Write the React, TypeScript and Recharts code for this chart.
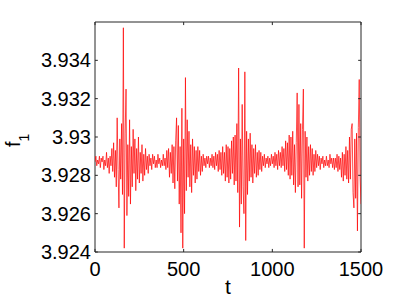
import React from 'react';
import { LineChart, Line, XAxis, YAxis, ReferenceLine, ReferenceArea } from 'recharts';

// sampling step of the signal (t units)
const TIME_STEP = 5;

// f1 values, one every 5 time units from t = 0 to 1500
const f1Values: number[] = [
  3.9287, 3.9290, 3.9285, 3.9288, 3.9286, 3.9290, 3.9284, 3.9289, 3.9287, 3.9290,
  3.9283, 3.9288, 3.9285, 3.9292, 3.9284, 3.9289, 3.9281, 3.9290, 3.9285, 3.9294,
  3.9282, 3.9297, 3.9279, 3.9293, 3.9274, 3.9310, 3.9283, 3.9263, 3.9299, 3.9278,
  3.9307, 3.9270, 3.9357, 3.9242, 3.9302, 3.9325, 3.9259, 3.9296, 3.9269, 3.9309,
  3.9265, 3.9295, 3.9274, 3.9304, 3.9281, 3.9299, 3.9272, 3.9294, 3.9278, 3.9300,
  3.9276, 3.9292, 3.9281, 3.9296, 3.9277, 3.9291, 3.9280, 3.9294, 3.9283, 3.9290,
  3.9281, 3.9291, 3.9285, 3.9289, 3.9283, 3.9291, 3.9286, 3.9290, 3.9284, 3.9288,
  3.9284, 3.9291, 3.9286, 3.9289, 3.9284, 3.9288, 3.9285, 3.9291, 3.9285, 3.9289,
  3.9283, 3.9293, 3.9284, 3.9294, 3.9279, 3.9292, 3.9281, 3.9296, 3.9276, 3.9295,
  3.9273, 3.9298, 3.9310, 3.9277, 3.9306, 3.9265, 3.9295, 3.9250, 3.9315, 3.9242,
  3.9299, 3.9260, 3.9331, 3.9272, 3.9309, 3.9279, 3.9303, 3.9274, 3.9296, 3.9271,
  3.9299, 3.9280, 3.9295, 3.9276, 3.9293, 3.9278, 3.9295, 3.9282, 3.9293, 3.9280,
  3.9290, 3.9282, 3.9291, 3.9285, 3.9289, 3.9284, 3.9290, 3.9286, 3.9290, 3.9284,
  3.9289, 3.9285, 3.9291, 3.9284, 3.9290, 3.9283, 3.9292, 3.9285, 3.9291, 3.9282,
  3.9293, 3.9283, 3.9292, 3.9280, 3.9295, 3.9281, 3.9292, 3.9277, 3.9296, 3.9279,
  3.9295, 3.9276, 3.9294, 3.9278, 3.9298, 3.9281, 3.9300, 3.9275, 3.9301, 3.9277,
  3.9307, 3.9271, 3.9336, 3.9253, 3.9299, 3.9265, 3.9317, 3.9274, 3.9260, 3.9334,
  3.9246, 3.9303, 3.9270, 3.9299, 3.9277, 3.9302, 3.9279, 3.9296, 3.9276, 3.9294,
  3.9281, 3.9296, 3.9279, 3.9292, 3.9280, 3.9293, 3.9283, 3.9292, 3.9282, 3.9290,
  3.9285, 3.9291, 3.9284, 3.9289, 3.9286, 3.9290, 3.9284, 3.9289, 3.9285, 3.9291,
  3.9286, 3.9290, 3.9284, 3.9292, 3.9285, 3.9291, 3.9283, 3.9293, 3.9285, 3.9292,
  3.9284, 3.9295, 3.9285, 3.9294, 3.9282, 3.9298, 3.9283, 3.9297, 3.9280, 3.9301,
  3.9278, 3.9300, 3.9280, 3.9303, 3.9275, 3.9296, 3.9271, 3.9297, 3.9323, 3.9274,
  3.9317, 3.9275, 3.9307, 3.9268, 3.9304, 3.9325, 3.9242, 3.9303, 3.9279, 3.9300,
  3.9277, 3.9295, 3.9280, 3.9296, 3.9282, 3.9294, 3.9280, 3.9291, 3.9282, 3.9293,
  3.9284, 3.9291, 3.9285, 3.9290, 3.9283, 3.9289, 3.9286, 3.9290, 3.9284, 3.9288,
  3.9285, 3.9290, 3.9285, 3.9288, 3.9284, 3.9291, 3.9286, 3.9289, 3.9284, 3.9289,
  3.9283, 3.9289, 3.9284, 3.9291, 3.9282, 3.9290, 3.9283, 3.9289, 3.9279, 3.9292,
  3.9277, 3.9291, 3.9280, 3.9295, 3.9278, 3.9293, 3.9276, 3.9300, 3.9278, 3.9304,
  3.9307, 3.9271, 3.9263, 3.9299, 3.9268, 3.9302, 3.9251, 3.9305, 3.9330, 3.9279,
  3.9265,
];

const xTicks = [0, 500, 1000, 1500];
const yTicks = [3.924, 3.926, 3.928, 3.93, 3.932, 3.934];
const xDomain: [number, number] = [0, 1500];
const yDomain: [number, number] = [3.924, 3.936];

const data = f1Values.map((v, i) => ({ t: i * TIME_STEP, f1: v }));

const axisColor = '#262626';
const lineColor = '#ff0000';
const font = '"Liberation Sans", Arial, Helvetica, sans-serif';

// inward tick lengths, in data units (~3px)
const xTickLen = 16;
const yTickLen = 0.00016;

const fmtY = (v: number) => String(Number(v.toFixed(3)));

const YLabel = () => (
  <text transform="translate(20,147) rotate(-90)" fontFamily={font} fontSize={20} fill="#000">
    f<tspan dy={9} fontSize={14}>1</tspan>
  </text>
);

const XLabel = () => (
  <text x={228} y={294} textAnchor="middle" fontFamily={font} fontSize={21} fill="#000">
    t
  </text>
);

export default function App() {
  return (
    <div style={{ position: 'absolute', left: 0, top: 0, width: 399, height: 301, background: '#fff' }}>
      <LineChart
        width={399}
        height={301}
        data={data}
        margin={{ top: 22, right: 38, bottom: 19, left: 0 }}
      >
        <XAxis
          dataKey="t"
          type="number"
          domain={xDomain}
          ticks={xTicks}
          allowDataOverflow
          height={30}
          tickSize={0}
          tickMargin={10}
          tickLine={false}
          axisLine={false}
          tick={{ fill: '#000', fontSize: 20, fontFamily: font }}
          label={{ content: XLabel }}
        />
        <YAxis
          type="number"
          domain={yDomain}
          ticks={yTicks}
          allowDataOverflow
          width={95}
          tickSize={0}
          tickMargin={4}
          tickLine={false}
          axisLine={false}
          tickFormatter={fmtY}
          tick={{ fill: '#000', fontSize: 20, fontFamily: font }}
          label={{ content: YLabel }}
        />
        <Line
          type="linear"
          dataKey="f1"
          stroke={lineColor}
          strokeWidth={0.7}
          dot={false}
          activeDot={false}
          isAnimationActive={false}
        />
        {yTicks.map((y) => (
          <ReferenceLine key={`yl${y}`} segment={[{ x: xDomain[0], y }, { x: xDomain[0] + xTickLen, y }]} stroke={axisColor} />
        ))}
        {yTicks.map((y) => (
          <ReferenceLine key={`yr${y}`} segment={[{ x: xDomain[1] - xTickLen, y }, { x: xDomain[1], y }]} stroke={axisColor} />
        ))}
        {xTicks.map((x) => (
          <ReferenceLine key={`xb${x}`} segment={[{ x, y: yDomain[0] }, { x, y: yDomain[0] + yTickLen }]} stroke={axisColor} />
        ))}
        {xTicks.map((x) => (
          <ReferenceLine key={`xt${x}`} segment={[{ x, y: yDomain[1] - yTickLen }, { x, y: yDomain[1] }]} stroke={axisColor} />
        ))}
        <ReferenceArea
          x1={xDomain[0]}
          x2={xDomain[1]}
          y1={yDomain[0]}
          y2={yDomain[1]}
          fill="none"
          fillOpacity={0}
          stroke={axisColor}
          strokeWidth={1}
        />
      </LineChart>
    </div>
  );
}
